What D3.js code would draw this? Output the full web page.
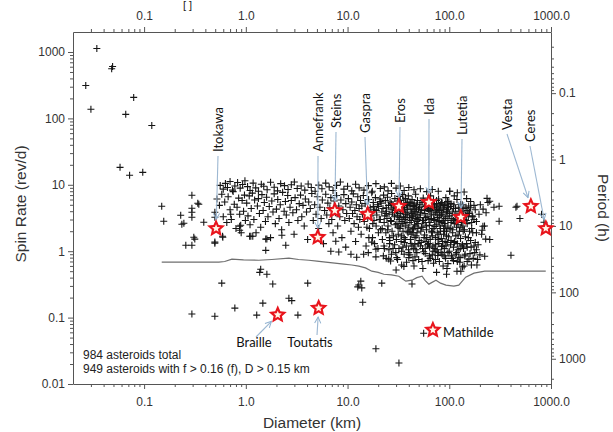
<!DOCTYPE html>
<html>
<head>
<meta charset="utf-8">
<script src="https://cdn.jsdelivr.net/npm/d3@7"></script>
<style>
  body { margin: 0; background: #fff; }
  svg { display: block; }
  .tick text { font-family: "Liberation Sans", Arial, sans-serif; font-size: 12px; fill: #333; }
  .axis path, .axis line { stroke: #555; }
</style>
</head>
<body>
<div id="chart"></div>
<script>
// diameter (km), spin rate (rev/d)
const tinyAsteroids = [
  [0.0343,1130],[0.049,605],[0.048,560],[0.0267,313],[0.030,137],[0.079,207],[0.066,115],
  [0.119,78],[0.058,18.3],[0.072,13.9],[0.097,15.4]
];

const smallAsteroids = [
  [0.149,4.75],[0.156,2.83],[0.229,3.48],[0.295,4.43],[0.295,3.86],[0.295,3.24],[0.345,5.09],
  [0.235,2.55],[0.246,2.63],[0.386,2.73],[0.308,1.62],[0.315,1.52],[0.257,1.23],[0.295,1.23],
  [0.496,1.37],[0.496,3.86],[0.295,6.95],[0.337,5.27],[0.496,3.24],[0.594,1.62],[0.496,1.32],
  [0.87,2.38],[0.87,2.07],[0.59,1.68],[0.71,3.6],[0.89,2.46],[1.09,1.68],[1.17,1.68],
  [1.57,1.52],[1.57,1.03],[2.47,1.23],[2.26,1.74],[1.12,1.68],[1.61,1.52]
];

const lowAsteroids = [
  [0.295,0.113],[0.496,0.105],[0.58,0.33],[0.78,0.139],[1.28,0.109],[1.47,0.165],[1.40,0.536],
  [1.37,0.48],[1.61,0.45],[2.65,0.196],[2.83,0.18],[3.25,0.109],[1.84,0.32],[4.06,0.33],
  [7.66,1.41],[6.85,1.0],[8.2,0.97],[9.6,1.15],[10.8,0.9],[12.3,0.81],[14.4,0.9],[13.5,0.354],
  [13.8,0.28],[14.1,0.17],[12.6,0.29],[12.9,0.31],[21.7,0.33],[19,0.034],[32,0.0207],[26.5,0.71],
  [25.4,0.76],[35.8,0.59],[43,0.32],[17.3,1.37],[19,1.07],[56,0.058],[75,0.48],[94,0.45],
  [119,0.5],[130,0.5],[30,0.52]
];

const topBand = [
  [0.56,9.8],[0.6,8.6],[0.63,10.5],[0.66,9.1],[0.7,11.2],[0.74,8.3],[0.78,9.6],[0.83,10.8],
  [0.88,8.9],[0.93,10.1],[0.98,11.5],[1.04,9.4],[1.1,8.2],[1.18,10.6],[1.25,9.0],[1.33,8.0],
  [1.42,10.2],[1.5,9.5],[1.62,8.4],[1.75,10.9],[1.9,9.2],[2.05,8.1],[2.2,10.4],[2.4,9.7],
  [2.6,8.5],[2.8,10.0],[3.0,11.0],[3.2,8.8],[3.5,9.6],[3.8,8.3],[4.1,10.3],[4.4,9.1],[4.8,8.0],
  [5.2,9.9],[5.6,8.7],[6.1,10.6],[6.6,9.3],[7.2,8.2],[7.8,9.8],[8.5,11.0],[9.2,8.6],[10,9.5],
  [11,8.1],[12,10.2],[13,9.0],[14.5,8.3],[16,9.7],[17.5,8.0],[19,10.4],[21,8.8],[23,9.3],
  [25,8.1],[27,10.5],[30,8.9],[33,9.6],[36,8.2],[40,9.1],[45,8.4],[52,8.7],[60,7.9],[68,8.5],
  [78,8.0],[101,8.0],[120,7.6],[140,7.8],[235,6.25]
];

const midAsteroids = [
  [0.52,6.1],[0.55,4.9],[0.58,7.2],[0.6,3.3],[0.62,5.5],[0.65,2.7],[0.67,6.6],[0.7,4.2],
  [0.72,3.0],[0.75,7.9],[0.77,5.1],[0.8,2.2],[0.82,4.6],[0.85,6.3],[0.87,3.6],[0.9,1.9],
  [0.92,5.8],[0.95,4.0],[0.97,7.0],[0.99,2.9],
  [1.02,5.3],[1.05,3.4],[1.08,6.8],[1.1,2.5],[1.13,4.4],[1.16,7.5],[1.2,3.0],[1.22,5.9],
  [1.26,1.9],[1.3,4.8],[1.33,6.2],[1.36,3.7],[1.4,2.3],[1.44,7.1],[1.48,4.1],[1.52,5.4],
  [1.56,2.8],[1.6,6.5],[1.65,3.3],[1.7,4.7],[1.75,1.6],[1.8,5.7],[1.85,3.9],[1.9,7.3],[1.95,2.6],
  [2.0,4.3],[2.06,6.0],[2.12,3.1],[2.18,5.0],[2.25,2.1],[2.3,7.7],[2.38,4.0],[2.45,5.6],
  [2.5,3.5],[2.58,6.9],[2.65,2.7],[2.72,4.6],[2.8,5.8],[2.9,3.8],[2.98,1.8],[3.05,6.4],
  [3.15,4.2],[3.25,2.9],[3.35,5.2],[3.45,7.0],
  [3.55,3.3],[3.65,4.9],[3.75,2.4],[3.85,6.1],[3.95,3.9],[4.05,1.5],[4.15,5.5],[4.3,4.4],
  [4.45,7.4],[4.6,2.9],[4.75,5.0],[4.9,3.6],[5.05,6.6],[5.2,2.2],[5.35,4.6],[5.5,3.1],
  [5.65,5.9],[5.8,1.3],[5.95,4.1],[6.1,7.2],
  [6.25,3.5],[6.4,5.3],[6.55,2.6],[6.7,4.5],[6.85,6.4],[7.0,3.0],[7.2,1.9],[7.4,5.7],
  [7.6,3.8],[7.8,6.9],[8.0,2.4],[8.2,4.8],[8.4,3.3],[8.6,5.9],[8.8,1.6],[9.0,4.2],[9.2,7.1],
  [9.4,2.9],[9.6,5.2],[9.8,3.7]
];

const denseAsteroids = [
  [10.2,6.2],[10.4,3.1],[10.6,4.6],[10.8,2.0],[11.0,5.5],[11.2,3.7],[11.4,7.3],[11.6,2.6],
  [11.8,4.1],[12.0,1.4],[12.2,5.0],[12.4,3.3],[12.6,6.6],[12.8,2.3],[13.0,4.4],[13.2,3.0],
  [13.4,5.8],[13.6,1.8],[13.8,4.8],[14.0,3.6],[14.3,6.9],[14.6,2.8],[14.9,5.2],[15.2,1.2],
  [15.5,4.0],[15.8,3.2],[16.1,6.0],[16.4,2.2],[16.7,4.5],[17.0,3.8],[17.3,7.6],[17.6,1.6],
  [17.9,5.4],[18.2,2.9],[18.5,4.2],[18.8,6.4],[19.1,2.4],[19.4,3.5],[19.7,5.0],[19.9,1.1],
  [20.2,4.7],[20.5,3.0],[20.8,6.1],[21.1,2.1],[21.4,5.3],[21.7,3.9],[22.0,1.5],[22.3,4.4],
  [22.6,7.0],[22.9,2.7],[23.2,3.4],[23.5,5.8],[23.8,1.9],[24.1,4.0],[24.4,3.1],[24.7,6.5],
  [25.0,2.4],[25.3,4.9],[25.6,3.6],[25.9,1.3],[26.2,5.5],[26.5,2.9],[26.8,4.3],[27.1,7.4],
  [27.4,2.0],[27.7,3.8],[28.0,5.0],[28.3,1.7],[28.6,4.6],[28.9,3.3],[29.2,6.2],[29.5,2.5],
  [29.8,0.95],[22.5,0.85],[25.5,1.05],[24,0.78],
  [30.3,4.1],[30.6,2.6],[30.9,5.7],[31.2,3.4],[31.5,1.8],[31.8,4.8],[32.1,3.0],[32.4,6.7],
  [32.7,2.2],[33.0,4.4],[33.3,3.7],[33.6,1.4],[33.9,5.2],[34.2,2.8],[34.5,4.0],[34.8,7.1],
  [35.1,2.0],[35.4,3.3],[35.7,5.9],[36.0,1.6],[36.3,4.6],[36.6,3.0],[36.9,2.4],[37.2,6.2],
  [37.5,3.8],[37.8,1.2],[38.1,5.0],[38.4,2.7],[38.7,4.3],[39.0,3.5],[39.3,1.9],[39.6,6.8],
  [39.9,2.3],[40.3,4.9],[40.7,3.2],[41.1,5.5],[41.5,1.5],[41.9,4.2],[42.3,2.9],[42.7,3.9],
  [43.1,6.0],[43.5,2.1],[43.9,4.7],[44.3,3.4],[44.7,1.1],[45.1,5.3],[45.5,2.5],[45.9,4.0],
  [46.3,3.1],[46.7,7.2],[47.1,1.7],[47.5,4.5],[47.9,2.8],[48.3,3.6],[48.7,5.8],[49.1,2.2],
  [49.5,1.3],[49.9,4.3],
  [31,3.9],[33,2.4],[35,4.6],[37,3.2],[39,5.4],[41,2.0],[43,3.7],[45,4.9],[47,2.4],[49,3.0],
  [32,1.1],[36,0.9],[40,0.8],[44,0.72],[48,0.95],[34,0.62],[42,1.3],[46,1.6],[38,0.68],[30.5,0.8],
  [50.5,3.2],[51.5,5.1],[52.5,2.0],[53.5,4.2],[54.5,2.9],[55.5,6.3],[56.5,1.6],[57.5,3.7],
  [58.5,4.7],[59.5,2.4],[60.5,3.3],[61.5,5.6],[62.5,1.3],[63.5,4.0],[64.5,2.7],[65.5,6.8],
  [66.5,3.5],[67.5,1.9],[68.5,4.5],[69.5,2.2],[70.5,3.0],[71.5,5.2],[72.5,1.0],[73.5,3.8],
  [74.5,2.5],[75.5,4.8],[76.5,3.2],[77.5,1.5],[78.5,6.1],[79.5,2.8],[80.5,4.1],[82,2.0],
  [83.5,3.5],[85,5.3],[86.5,1.2],[88,4.3],[89.5,2.6],[91,3.1],[92.5,6.4],[94,1.7],[95.5,3.9],
  [97,2.3],[98.5,4.6],
  [52,3.8],[55,2.3],[58,1.1],[61,4.4],[64,0.85],[67,2.0],[70,6.0],[73,0.75],[76,3.9],[79,1.8],
  [82,5.0],[85,0.9],[88,2.9],[91,1.4],[94,4.0],[97,0.65],[54,0.7],[60,1.6],[66,4.1],[72,2.9],
  [78,0.95],[84,3.6],[90,2.0],[96,5.6],[57,5.5],[63,3.0],[69,1.2],[75,5.8],[81,2.4],[87,0.6],
  [101,3.4],[104,5.2],[107,2.1],[110,4.4],[113,1.4],[116,3.0],[119,6.0],[122,2.5],[125,4.0],
  [128,1.1],[131,3.6],[134,5.0],[137,2.0],[140,3.0],[143,0.9],[146,4.6],[150,2.6],[154,1.6],
  [158,3.9],[162,5.6],[166,2.2],[170,3.3],[175,1.2],[180,4.2],[185,2.8],[190,0.75],[196,3.6],
  [202,5.0],[208,1.8],[215,4.3],[222,2.4],[230,3.8],[240,5.4],[250,1.5],[165,0.62],[120,0.7],
  [135,0.58],[105,0.85],[112,6.8],[148,6.2],[175,4.9],[110,2.9],[130,2.3],[155,4.8],[185,1.9]
];

const coreAsteroids = [
  [15.5,2.3],[16.2,1.6],[16.9,3.4],[17.7,2.6],[18.4,1.3],[19.2,4.1],[20.1,1.9],[21.0,3.0],
  [21.9,2.2],[22.8,1.2],[23.8,3.7],[24.8,2.1],[25.8,1.6],[26.9,2.8],[28.0,1.1],[29.1,3.5],
  [30.2,1.5],[31.4,2.3],[32.6,3.2],[33.8,1.7],[35.0,2.6],[36.2,1.35],[37.4,3.6],[38.6,2.0],
  [39.8,1.05],[41.0,2.7],[42.2,1.8],[43.4,3.3],[44.6,2.2],[45.8,1.25],[47.0,3.9],[48.2,1.9],
  [49.4,2.6],[50.7,1.45],[52.0,3.5],[53.3,2.3],[54.6,1.1],[55.9,2.9],[57.2,1.75],[58.5,3.2],
  [59.8,2.1],[61.1,1.25],[62.4,4.3],[63.7,2.45],[65.0,1.5],[66.4,3.1],[67.8,2.0],[69.2,1.0],
  [70.6,3.6],[72.0,2.35],[73.4,1.6],[74.8,4.2],[76.2,1.9],[77.6,2.9],[79.0,1.3],[80.5,3.4],
  [82.0,2.2],[83.5,1.55],[85.0,2.7],[86.5,3.8],[88.0,1.8],[89.5,1.1],[91.0,2.4],[92.5,3.3],
  [94.0,2.0],[95.5,1.35],[97.0,2.9],[98.5,1.65],[100,3.7],[102,2.2],[104,1.45],[106,3.1],
  [108,1.9],[110,1.15],[112,2.6],[114,3.6],[116,1.7],[118,2.3],[120,1.3],[123,3.0],[126,2.0],
  [129,1.55],[132,2.7],[135,1.25],[138,3.4],[141,2.1],[144,1.65],[147,2.9],[150,1.15],
  [154,3.3],[158,2.0],[162,1.45],[166,2.7],[170,1.9],[175,3.0],[180,1.35],
  [18,4.7],[21,5.6],[24,4.5],[27,5.2],[30,4.4],[33,5.8],[36,4.2],[39,4.9],[42,5.3],[45,4.3],
  [48,5.0],[51,4.6],[54,5.4],[57,4.1],[60,4.9],[63,5.6],[66,4.4],[69,5.0],[72,4.6],[75,5.2],
  [78,4.3],[81,4.8],[84,5.4],[87,4.5],[90,4.9],[93,5.1],[96,4.2],[99,5.5],[103,4.7],[107,3.9],
  [111,5.0],[115,4.4],[119,3.6],[124,4.6],[129,5.1],[134,3.9],[139,4.4],[144,3.5],[150,4.1],
  [156,3.7],[162,4.5],[168,3.4],
  [16,0.95],[19,0.82],[23,1.1],[27,0.9],[31,0.75],[35,1.15],[40,0.95],[46,0.82],[52,1.2],
  [58,0.92],[65,0.78],[71,1.1],[77,0.86],[84,1.18],[92,0.78],[100,1.0],[110,0.72],[118,0.95],
  [128,0.8],[138,1.1],[150,0.7],[160,0.92],[172,0.78],[185,1.05],[200,0.88],[45,0.6],[55,0.55],
  [95,0.55],[140,0.6],[70,0.66]
];

const faintTail = [
  [26,1.45],[29,1.25],[34,1.0],[37,1.5],[41,0.88],[43,1.2],[47,1.05],[50,0.75],[53,1.35],
  [56,0.98],[59,1.4],[62,0.72],[64,1.15],[68,0.88],[73,1.25],[76,1.05],[80,0.7],[83,0.96],
  [86,1.4],[89,0.85],[93,1.2],[97,0.95],[103,1.25],[107,0.78],[112,1.35],[116,0.9],[122,1.05],
  [127,0.68],[133,1.2],[142,0.85],[148,1.3],[156,0.76],[164,1.15],[178,0.95],[192,1.25],
  [44,1.9],[58,2.7],[68,1.7],[88,2.2],[104,2.7],[122,1.75],[136,2.4]
];

const largeAsteroids = [
  [275,4.6],[309,4.75],[309,2.83],[404,0.87],[452,4.6],[495,3.1],[463,4.75],[808,3.6],
  [853,2.73],[250,5.64],[223,0.84],[187,0.62],[124,0.81],[228,1.52],[210,2.07],[214,2.38],[101,8.0]
];

// lightcurve completeness limit
const limitDiam = [0.149,0.543,0.62,0.73,0.95,1.34,1.8,2.65,3.3,4.16,5.0,6.1,7.5,9.2,11,12.9,15,17.3,
  20,22.7,27,31.9,34,37.4,43,48,54,58,63,74,82,92.7,111,124,145,175,223,888];
const limitSpin = [0.683,0.683,0.70,0.758,0.74,0.73,0.75,0.785,0.75,0.73,0.71,0.683,0.66,0.637,0.62,
  0.595,0.56,0.50,0.48,0.45,0.44,0.42,0.39,0.354,0.366,0.40,0.42,0.36,0.319,0.366,0.33,0.308,
  0.298,0.308,0.406,0.467,0.50,0.50];

// spacecraft targets
const missionNames = ["Itokawa","Annefrank","Steins","Gaspra","Eros","Ida","Lutetia","Vesta","Ceres",
  "Braille","Toutatis","Mathilde"];
const missionDiam = [0.51,5.1,7.5,15.8,32,63,130,634,890,2.06,5.2,69];
const missionSpin = [2.2,1.62,4.1,3.6,4.75,5.45,3.25,4.75,2.2,0.11,0.139,0.065];

// label placement (pixels)
const labelLayout = {
  Itokawa:   {x: 218, y: 152, vertical: true},
  Annefrank: {x: 318, y: 152, vertical: true},
  Steins:    {x: 336, y: 128, vertical: true},
  Gaspra:    {x: 365, y: 133, vertical: true},
  Eros:      {x: 400, y: 123, vertical: true},
  Ida:       {x: 429, y: 115, vertical: true},
  Lutetia:   {x: 462, y: 135, vertical: true},
  Vesta:     {x: 507, y: 130, vertical: true},
  Ceres:     {x: 530, y: 142, vertical: true},
  Braille:   {x: 254, y: 347, lx: 256, ly: 337},
  Toutatis:  {x: 310, y: 347, lx: 317, ly: 335},
  Mathilde:  {x: 443, y: 337, noLine: true}
};

const xTicks = [0.1, 1, 10, 100, 1000];
const xTickLabels = ["0.1", "1.0", "10.0", "100.0", "1000.0"];
const yTicks = [0.01, 0.1, 1, 10, 100, 1000];
const yTickLabels = ["0.01", "0.1", "1", "10", "100", "1000"];
const periodTicks = [0.1, 1, 10, 100, 1000];
const periodTickLabels = ["0.1", "1", "10", "100", "1000"];

const width = 613, height = 432;
const margin = {top: 32, right: 62, bottom: 48, left: 73};

const svg = d3.select("#chart").append("svg")
  .attr("width", width)
  .attr("height", height);

const x = d3.scaleLog().domain([0.02, 1000]).range([margin.left, width - margin.right]);
const y = d3.scaleLog().domain([0.01, 2000]).range([height - margin.bottom, margin.top]);
const yPeriod = d3.scaleLog().domain([24 / 0.01, 24 / 2000]).range([height - margin.bottom, margin.top]);

function minorTicks(lo, hi) {
  const out = [];
  for (let e = Math.floor(Math.log10(lo)); e <= Math.ceil(Math.log10(hi)); e++) {
    for (let m = 2; m <= 9; m++) {
      const v = m * Math.pow(10, e);
      if (v > lo && v < hi) out.push(v);
    }
  }
  return out;
}

const xMinor = minorTicks(0.02, 1000);
const yMinor = minorTicks(0.01, 2000);
const pMinor = minorTicks(0.012, 2400);

function drawAxis(axisFn, scale, major, labels, minor, transform) {
  const g = svg.append("g").attr("class", "axis").attr("transform", transform);
  g.call(axisFn(scale).tickValues(major).tickFormat((d, i) => labels[i]).tickSize(5).tickSizeOuter(0));
  const gm = svg.append("g").attr("class", "axis").attr("transform", transform);
  gm.call(axisFn(scale).tickValues(minor).tickFormat("").tickSize(3).tickSizeOuter(0));
  gm.select(".domain").remove();
  return g;
}

const bottom = height - margin.bottom, right = width - margin.right;
drawAxis(d3.axisBottom, x, xTicks, xTickLabels, xMinor, `translate(0,${bottom})`)
  .selectAll(".tick text").attr("dy", "1.2em");
drawAxis(d3.axisTop, x, xTicks, xTickLabels, xMinor, `translate(0,${margin.top})`)
  .selectAll(".tick text").attr("dy", "-0.35em");
drawAxis(d3.axisLeft, y, yTicks, yTickLabels, yMinor, `translate(${margin.left},0)`);
drawAxis(d3.axisRight, yPeriod, periodTicks, periodTickLabels, pMinor, `translate(${right},0)`);

// completeness line
svg.append("path")
  .datum(limitDiam.map((d, i) => [d, limitSpin[i]]))
  .attr("fill", "none")
  .attr("stroke", "#6f6f6f")
  .attr("stroke-width", 1.2)
  .attr("d", d3.line().x(d => x(d[0])).y(d => y(d[1])));

// asteroids
const allAsteroids = [].concat(tinyAsteroids, smallAsteroids, lowAsteroids, topBand,
  midAsteroids, denseAsteroids, coreAsteroids, faintTail, largeAsteroids);

svg.append("g").selectAll("path")
  .data(allAsteroids)
  .join("path")
  .attr("transform", d => `translate(${x(d[0])},${y(d[1])})`)
  .attr("d", "M-3.5,0H3.5M0,-3.5V3.5")
  .attr("stroke", "#151515")
  .attr("stroke-width", 1.1);

// leader lines
svg.append("defs").append("marker")
  .attr("id", "arrow")
  .attr("viewBox", "0 0 10 10")
  .attr("refX", 9).attr("refY", 5)
  .attr("markerWidth", 7).attr("markerHeight", 7)
  .attr("orient", "auto")
  .append("path")
  .attr("d", "M1,1L9,5L1,9")
  .attr("fill", "none")
  .attr("stroke", "#8fb0cf")
  .attr("stroke-width", 1.3);

const missions = missionNames.map((n, i) => ({name: n, d: missionDiam[i], s: missionSpin[i], lay: labelLayout[n]}));

svg.append("g").selectAll("line")
  .data(missions.filter(m => !m.lay.noLine))
  .join("line")
  .each(function(m) {
    const sx = x(m.d), sy = y(m.s);
    const x1 = m.lay.vertical ? m.lay.x : m.lay.lx;
    const y1 = m.lay.vertical ? m.lay.y + 4 : m.lay.ly;
    const dx = sx - x1, dy = sy - y1, len = Math.hypot(dx, dy);
    d3.select(this)
      .attr("x1", x1).attr("y1", y1)
      .attr("x2", sx - dx / len * 9).attr("y2", sy - dy / len * 9);
  })
  .attr("stroke", "#9db8d2")
  .attr("stroke-width", 1.1)
  .attr("marker-end", "url(#arrow)");

// stars
function starPath(R, r) {
  const pts = [];
  for (let k = 0; k < 10; k++) {
    const a = -Math.PI / 2 + k * Math.PI / 5;
    const rad = k % 2 === 0 ? R : r;
    pts.push([rad * Math.cos(a), rad * Math.sin(a)]);
  }
  return "M" + pts.map(p => p.join(",")).join("L") + "Z";
}

const stars = svg.append("g").selectAll("g")
  .data(missions)
  .join("g")
  .attr("transform", m => `translate(${x(m.d)},${y(m.s)})`);
stars.append("path").attr("d", starPath(9.5, 4.4)).attr("fill", "#e8141c");
stars.append("path").attr("d", starPath(4.2, 1.9)).attr("fill", "#fff6e8");

// labels
svg.append("g").selectAll("text")
  .data(missions)
  .join("text")
  .attr("font-family", "Lato, 'Open Sans', sans-serif")
  .attr("font-size", 13)
  .attr("fill", "#111")
  .attr("transform", m => m.lay.vertical
    ? `translate(${m.lay.x},${m.lay.y}) rotate(-90)`
    : `translate(${m.lay.x},${m.lay.y})`)
  .attr("dy", m => m.lay.vertical ? "0.35em" : null)
  .attr("text-anchor", m => m.lay.vertical ? "start" : (m.lay.noLine ? "start" : "middle"))
  .text(m => m.name);

// notes
const notes = svg.append("g")
  .attr("font-family", "'Liberation Sans', Arial, sans-serif")
  .attr("font-size", 12)
  .attr("fill", "#222");
notes.append("text").attr("x", 83).attr("y", 359).text("984 asteroids total");
notes.append("text").attr("x", 83).attr("y", 373).text("949 asteroids with f > 0.16 (f), D > 0.15 km");

svg.append("text")
  .attr("x", 183).attr("y", 9)
  .attr("font-family", "'Liberation Sans', Arial, sans-serif")
  .attr("font-size", 11)
  .attr("fill", "#222")
  .text("[  ]");

// axis titles
const titleFont = "'Liberation Sans', Arial, sans-serif";
svg.append("text")
  .attr("transform", `translate(26,${(margin.top + bottom) / 2 - 4}) rotate(-90)`)
  .attr("text-anchor", "middle")
  .attr("font-family", titleFont).attr("font-size", 15.5).attr("fill", "#333")
  .text("Spin Rate (rev/d)");
svg.append("text")
  .attr("x", 312).attr("y", 428)
  .attr("text-anchor", "middle")
  .attr("font-family", titleFont).attr("font-size", 15.5).attr("fill", "#333")
  .text("Diameter (km)");
svg.append("text")
  .attr("transform", `translate(598,208) rotate(90)`)
  .attr("text-anchor", "middle")
  .attr("font-family", titleFont).attr("font-size", 15.5).attr("fill", "#333")
  .text("Period (h)");
</script>
</body>
</html>
